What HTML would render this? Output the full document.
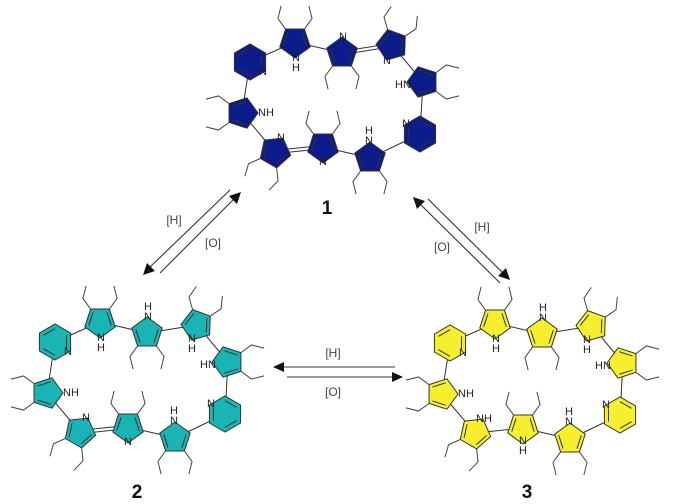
<!DOCTYPE html>
<html><head><meta charset="utf-8"><style>
html,body{margin:0;padding:0;background:#fff;}
svg{display:block;}
text{font-family:"Liberation Sans",Arial,sans-serif;}
.l{font-size:11px;fill:#222;text-anchor:middle;dominant-baseline:central;}
.b{font-size:12px;fill:#444;text-anchor:middle;dominant-baseline:central;}
.n{font-size:19px;font-weight:bold;fill:#111;text-anchor:middle;}
</style></head><body>
<svg id="s" width="681" height="504" viewBox="0 0 681 504" xmlns="http://www.w3.org/2000/svg">
<g id="m1" fill="#0c1c8a"></g>
<g id="m2" fill="#1ab4b4" transform="translate(-195,280)"></g>
<g id="m3" fill="#f6ef2e" transform="translate(200,281)"></g>

<g id="lab1">
<text class="l" x="296" y="58">N</text><text class="l" x="296" y="68">H</text>
<text class="l" x="343" y="37">N</text>
<text class="l" x="387" y="61">N</text>
<text class="l" x="403" y="85">HN</text>
<text class="l" x="406" y="124">N</text>
<text class="l" x="369" y="131">H</text><text class="l" x="369" y="141">N</text>
<text class="l" x="323" y="162">N</text>
<text class="l" x="281" y="138">N</text>
<text class="l" x="266" y="113">NH</text>
<text class="l" x="263" y="72">N</text>
</g>
<g transform="translate(-195,280)">
<text class="l" x="296" y="58">N</text><text class="l" x="296" y="68">H</text>
<text class="l" x="343" y="27">H</text><text class="l" x="343" y="37">N</text>
<text class="l" x="387" y="59">N</text><text class="l" x="387" y="69">H</text>
<text class="l" x="403" y="85">HN</text>
<text class="l" x="406" y="124">N</text>
<text class="l" x="369" y="131">H</text><text class="l" x="369" y="141">N</text>
<text class="l" x="323" y="162">N</text>
<text class="l" x="281" y="138">N</text>
<text class="l" x="266" y="113">NH</text>
<text class="l" x="263" y="72">N</text>
</g>
<g transform="translate(200,281)">
<text class="l" x="296" y="58">N</text><text class="l" x="296" y="68">H</text>
<text class="l" x="343" y="27">H</text><text class="l" x="343" y="37">N</text>
<text class="l" x="387" y="59">N</text><text class="l" x="387" y="69">H</text>
<text class="l" x="403" y="85">HN</text>
<text class="l" x="406" y="124">N</text>
<text class="l" x="369" y="131">H</text><text class="l" x="369" y="141">N</text>
<text class="l" x="323" y="160">N</text><text class="l" x="323" y="170">H</text>
<text class="l" x="284" y="138">NH</text>
<text class="l" x="266" y="113">NH</text>
<text class="l" x="263" y="72">N</text>
</g>

<text class="n" x="327" y="214">1</text>
<text class="n" x="137" y="498">2</text>
<text class="n" x="527" y="498">3</text>

<g stroke="#333" stroke-width="1.1">
<line x1="230" y1="190" x2="149" y2="268"/>
<line x1="160" y1="273" x2="235" y2="198"/>
<line x1="428" y1="199" x2="505" y2="275"/>
<line x1="500" y1="283" x2="418" y2="202"/>
<line x1="395" y1="367" x2="280" y2="367"/>
<line x1="287" y1="377" x2="396" y2="377"/>
</g>
<g fill="#111">
<polygon points="143,275 147,263 155,271"/>
<polygon points="241,192 237,204 229,196"/>
<polygon points="510,280 498,276 506,268"/>
<polygon points="413,197 417,209 425,201"/>
<polygon points="273,367 284,362 284,372"/>
<polygon points="403,377 392,372 392,382"/>
</g>
<text class="b" x="174" y="220">[H]</text>
<text class="b" x="213" y="243">[O]</text>
<text class="b" x="482" y="227">[H]</text>
<text class="b" x="442" y="247">[O]</text>
<text class="b" x="333" y="353">[H]</text>
<text class="b" x="333" y="392">[O]</text>
</svg>
<script>
(function(){
var NS="http://www.w3.org/2000/svg";
var R={A:[295,42,90,5],B:[342,53,-90,5],C:[392,45,110,5],D:[423,82,180,5],
PR:[420,134,210,6],E:[370,158,-90,5],F:[323,147,90,5],G:[275,152,-60,5],H:[242,113,0,5],PL:[250,62,30,6]};
var order=["PL","A","B","C","D","PR","E","F","G","H","PL"];
function rad(a){return a*Math.PI/180;}
function el(g,t,at){var e=document.createElementNS(NS,t);for(var k in at)e.setAttribute(k,at[k]);g.appendChild(e);return e;}
function line(g,a,b){el(g,"line",{x1:a[0],y1:a[1],x2:b[0],y2:b[1],stroke:"#333","stroke-width":1,fill:"none"});}
function build(id,dbl){
 var g=document.getElementById(id);
 for(var i=0;i<order.length-1;i++){
  var a=R[order[i]],b=R[order[i+1]];
  var key=order[i]+order[i+1];
  if(dbl.indexOf(key)>=0){
   var dx=b[0]-a[0],dy=b[1]-a[1],L=Math.hypot(dx,dy),px=-dy/L*1.6,py=dx/L*1.6;
   line(g,[a[0]+px,a[1]+py],[b[0]+px,b[1]+py]);line(g,[a[0]-px,a[1]-py],[b[0]-px,b[1]-py]);
  } else line(g,a,b);
 }
 for(var k in R){
  var r=R[k],n=r[3],rr=n==5?16:18,pts=[];
  for(var j=0;j<n;j++){var an=rad(r[2]+j*360/n);pts.push([r[0]+rr*Math.cos(an),r[1]+rr*Math.sin(an)]);}
  el(g,"polygon",{points:pts.map(function(p){return p.join(",");}).join(" "),stroke:"#333","stroke-width":1});
  var c=[r[0],r[1]];
  function inner(p,q){var s=0.74;line(g,[c[0]+(p[0]-c[0])*s,c[1]+(p[1]-c[1])*s],[c[0]+(q[0]-c[0])*s,c[1]+(q[1]-c[1])*s]);}
  if(n==5){
   inner(pts[1],pts[2]);inner(pts[3],pts[4]);
   [[2,50],[3,-50]].forEach(function(v){
    var p=pts[v[0]],an=rad(r[2]+v[0]*72);
    var p1=[p[0]+13*Math.cos(an),p[1]+13*Math.sin(an)];
    var a2=an+rad(v[1]);
    var p2=[p1[0]+13*Math.cos(a2),p1[1]+13*Math.sin(a2)];
    el(g,"polyline",{points:p.join(",")+" "+p1.join(",")+" "+p2.join(","),stroke:"#444","stroke-width":1,fill:"none"});
   });
  } else {
   inner(pts[1],pts[2]);inner(pts[3],pts[4]);inner(pts[5],pts[0]);
  }
 }
}
build("m1",["BC","FG"]);
build("m2",["FG"]);
build("m3",[]);
})();
</script>
</body></html>
